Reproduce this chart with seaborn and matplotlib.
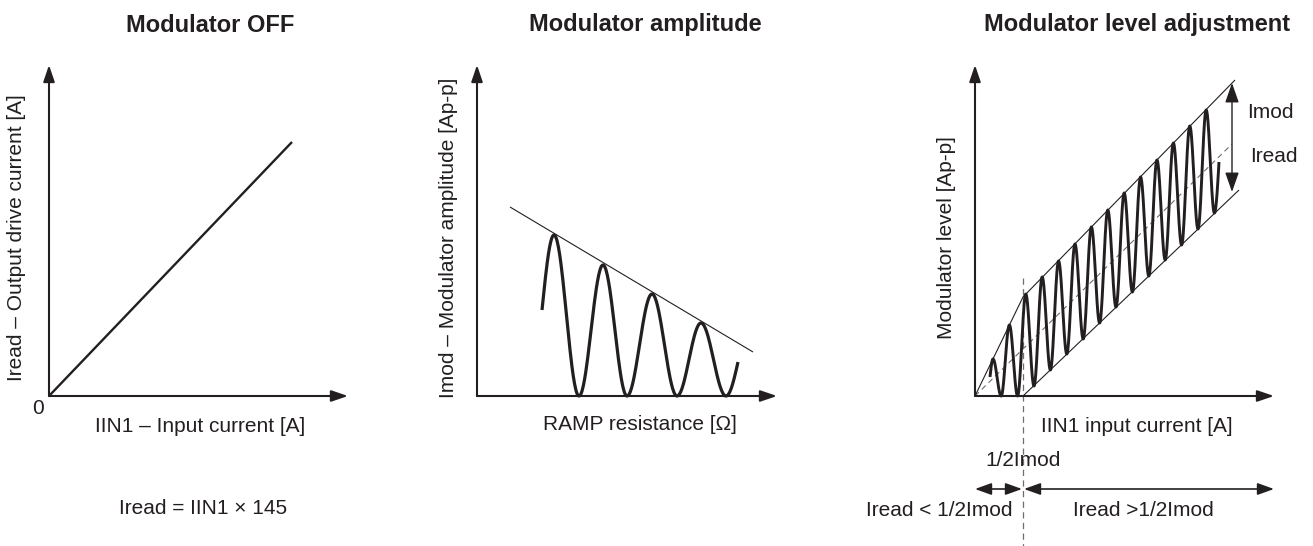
import numpy as np
import matplotlib
matplotlib.use("Agg")
import matplotlib.pyplot as plt
import seaborn as sns

# ---------------- data (schematic units, origin of each panel = (0, 0)) ----------------
titles = ["Modulator OFF", "Modulator amplitude", "Modulator level adjustment"]
xlabels = ["IIN1 – Input current [A]", "RAMP resistance [Ω]", "IIN1 input current [A]"]
ylabels = ["Iread – Output drive current [A]",
           "Imod – Modulator amplitude [Ap-p]",
           "Modulator level [Ap-p]"]

# panel 1 : Iread = IIN1 x 145
off_x = [0, 243]
off_y = [0, 254]
off_note = "Iread = IIN1 × 145"
zero_label = "0"

# panel 2 : amplitude vs RAMP resistance
amp_env_x = [33, 276]
amp_env_y = [189, 44]
amp_wave_x = [65, 77, 102, 126, 150, 175, 200, 224, 249, 261]
amp_wave_y = [86, 161, 0, 131, 0, 102, 0, 73, 0, 34]

# panel 3 : modulator level adjustment
lvl_upper_x = [0, 48, 260]
lvl_upper_y = [0, 99, 316]
lvl_lower_x = [48, 264]
lvl_lower_y = [0, 206]
lvl_mid_x = [0, 257]
lvl_mid_y = [0, 252]
lvl_wave_x = [15, 18, 26.2, 34.4, 42.6, 50.8, 59, 67.2, 75.4, 83.6, 91.8, 100, 108.2,
              116.4, 124.6, 132.8, 141, 149.2, 157.4, 165.6, 173.8, 182, 190.2, 198.4,
              206.6, 214.8, 223, 231.2, 239.4, 244]
lvl_wave_y = [19, 37, 0, 71, 0, 102, 10, 119, 26, 135, 42, 152, 57, 169, 73, 186, 89,
              203, 104, 219, 120, 236, 136, 253, 151, 270, 167, 286, 183, 234]
half_imod_x = 48
imod_arrow_x = 257
imod_arrow_y = [313, 204]
lvl_labels = ["Imod", "Iread", "1/2Imod", "Iread < 1/2Imod", "Iread >1/2Imod"]

# ---------------- style ----------------
sns.set_style("white")
plt.rcParams["font.family"] = ["Liberation Sans", "DejaVu Sans"]
INK = "#231f20"
GREY = "#6d6e71"

W, H = 1313, 546
ORIGIN_PY = 396
panels = [(0, 430, 49), (430, 860, 477), (860, 1313, 975)]
axis_tips = [(299, 331), (300, 331), (299, 331)]

fig = plt.figure(figsize=(W / 100, H / 100), dpi=100)
fig.patch.set_facecolor("white")


def wave_path(xs, ys, n=40):
    """Smooth sinusoidal path through the read key points (start/end at mid-slope)."""
    px, py = [], []
    last = len(xs) - 1
    t = np.linspace(0, 1, n)
    for i in range(last):
        x0, x1, y0, y1 = xs[i], xs[i + 1], ys[i], ys[i + 1]
        if i == 0:
            s = np.sin(t * np.pi / 2)
        elif i == last - 1:
            s = 1 - np.cos(t * np.pi / 2)
        else:
            s = (1 - np.cos(np.pi * t)) / 2
        px.extend(x0 + (x1 - x0) * t)
        py.extend(y0 + (y1 - y0) * s)
    return np.array(px), np.array(py)


def arrow(ax, start, end, style="-|>", lw=1.5, hl=1.0, hw=0.34, ms=10):
    ax.annotate("", xy=end, xytext=start, xycoords="data", textcoords="data",
                arrowprops=dict(arrowstyle=f"{style},head_length={hl},head_width={hw}",
                                lw=lw, color=INK, shrinkA=0, shrinkB=0,
                                mutation_scale=ms))


def line(ax, x, y, lw, color=INK, ls="-", dashes=None):
    sns.lineplot(x=list(x), y=list(y), sort=False, estimator=None, ax=ax,
                 color=color, linewidth=lw, linestyle=ls, legend=False)
    if dashes is not None:
        ax.lines[-1].set_dashes(dashes)
    ax.lines[-1].set_solid_capstyle("butt")


axes = []
for (l, r, ox), (tx, ty) in zip(panels, axis_tips):
    ax = fig.add_axes([l / W, 0, (r - l) / W, 1])
    ax.set_xlim(l - ox, r - ox)
    ax.set_ylim(ORIGIN_PY - H, ORIGIN_PY)
    ax.axis("off")
    arrow(ax, (0, 0), (tx, 0))
    arrow(ax, (0, 0), (0, ty))
    axes.append(ax)

# ---- panel 1 ----
ax = axes[0]
line(ax, off_x, off_y, 1.7)
ax.text(161, 371, titles[0], ha="center", va="center", fontsize=17, fontweight="bold", color=INK)
ax.text(151, -31, xlabels[0], ha="center", va="center", fontsize=15, color=INK)
ax.text(-32, 158, ylabels[0], ha="center", va="center", rotation=90, fontsize=15, color=INK)
ax.text(-11, -13, zero_label, ha="center", va="center", fontsize=15, color=INK)
ax.text(154, -113, off_note, ha="center", va="center", fontsize=15, color=INK)

# ---- panel 2 ----
ax = axes[1]
line(ax, amp_env_x, amp_env_y, 0.8)
wx, wy = wave_path(amp_wave_x, amp_wave_y)
line(ax, wx, wy, 2.3)
ax.text(168, 371, titles[1], ha="center", va="center", fontsize=17, fontweight="bold", color=INK)
ax.text(163, -29, xlabels[1], ha="center", va="center", fontsize=15, color=INK)
ax.text(-29, 158, ylabels[1], ha="center", va="center", rotation=90, fontsize=15, color=INK)

# ---- panel 3 ----
ax = axes[2]
line(ax, lvl_mid_x, lvl_mid_y, 0.8, color=GREY, dashes=(5, 3.5))
line(ax, [half_imod_x, half_imod_x], [118, ORIGIN_PY - H], 0.9, color=GREY, dashes=(5, 3.5))
line(ax, lvl_upper_x, lvl_upper_y, 0.8)
line(ax, lvl_lower_x, lvl_lower_y, 0.8)
wx, wy = wave_path(lvl_wave_x, lvl_wave_y, n=30)
line(ax, wx, wy, 2.1)
arrow(ax, (imod_arrow_x, imod_arrow_y[0]), (imod_arrow_x, imod_arrow_y[1]),
      style="<|-|>", lw=1.0, hl=1.2, hw=0.42, ms=10)
arrow(ax, (0, -93), (half_imod_x - 1, -93), style="<|-|>", lw=1.2, hl=1.0, hw=0.36, ms=10)
arrow(ax, (half_imod_x + 1, -93), (299, -93), style="<|-|>", lw=1.2, hl=1.0, hw=0.36, ms=10)
ax.text(162, 371, titles[2], ha="center", va="center", fontsize=17, fontweight="bold", color=INK)
ax.text(162, -31, xlabels[2], ha="center", va="center", fontsize=15, color=INK)
ax.text(-29, 158, ylabels[2], ha="center", va="center", rotation=90, fontsize=15, color=INK)
ax.text(295, 283, lvl_labels[0], ha="center", va="center", fontsize=15, color=INK)
ax.text(299, 239, lvl_labels[1], ha="center", va="center", fontsize=15, color=INK)
ax.text(half_imod_x, -64, lvl_labels[2], ha="center", va="center", fontsize=15, color=INK)
ax.text(-36, -115, lvl_labels[3], ha="center", va="center", fontsize=15, color=INK)
ax.text(168, -115, lvl_labels[4], ha="center", va="center", fontsize=15, color=INK)

fig.savefig("out.png", dpi=100, facecolor="white")
